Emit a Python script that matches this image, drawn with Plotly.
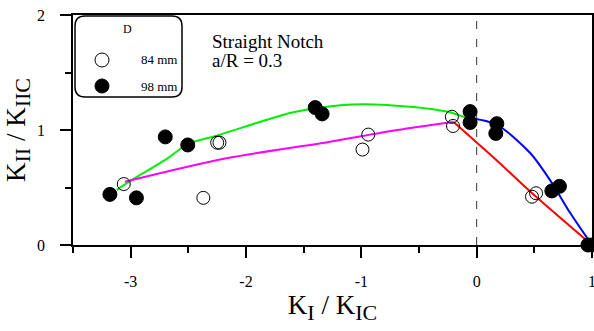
import plotly.graph_objects as go

# ---- data ----
open_x = [-3.06, -2.37, -2.25, -2.23, -0.94, -0.99, -0.215, -0.205, 0.48, 0.515]
open_y = [0.53, 0.41, 0.89, 0.89, 0.96, 0.83, 1.115, 1.035, 0.42, 0.45]

fill_x = [-3.18, -2.95, -2.70, -2.505, -1.40, -1.34, -0.057, -0.057, 0.175, 0.166, 0.718, 0.652, 0.965, 1.0]
fill_y = [0.44, 0.41, 0.94, 0.87, 1.195, 1.14, 1.16, 1.065, 1.055, 0.97, 0.51, 0.47, 0.0, 0.0]

green_x = [-3.12, -3.0, -2.7, -2.5, -2.24, -1.88, -1.59, -1.18, -0.98, -0.55, -0.26, -0.1]
green_y = [0.48, 0.56, 0.74, 0.88, 0.955, 1.07, 1.155, 1.215, 1.225, 1.20, 1.16, 1.11]

magenta_x = [-3.05, -2.17, -1.27, -0.69, -0.2]
magenta_y = [0.55, 0.754, 0.898, 1.0, 1.07]

red_x = [-0.2, 0.175, 0.464, 1.0]
red_y = [1.07, 0.735, 0.465, 0.0]

blue_x = [-0.1, 0.175, 0.464, 0.652, 0.81, 1.0]
blue_y = [1.11, 1.045, 0.80, 0.54, 0.28, 0.0]

x_ticks = [-3, -2, -1, 0, 1]
x_tick_labels = ["-3", "-2", "-1", "0", "1"]
y_ticks = [0, 1, 2]
y_tick_labels = ["0", "1", "2"]

FONT = "Liberation Serif, Times New Roman, serif"

fig = go.Figure()
for xs, ys, col in [(green_x, green_y, "#00ee00"), (magenta_x, magenta_y, "#ff00ff"),
                    (red_x, red_y, "#ff0000"), (blue_x, blue_y, "#0000ff")]:
    fig.add_trace(go.Scatter(x=xs, y=ys, mode="lines", line=dict(color=col, width=2, shape="spline", smoothing=0.8),
                             showlegend=False, hoverinfo="skip"))

fig.add_trace(go.Scatter(x=fill_x, y=fill_y, mode="markers", name="98 mm",
                         marker=dict(symbol="circle", size=14, color="black", line=dict(color="black", width=1)),
                         showlegend=False, cliponaxis=False))
fig.add_trace(go.Scatter(x=open_x, y=open_y, mode="markers", name="84 mm",
                         marker=dict(symbol="circle-open", size=13, color="black", line=dict(color="black", width=1)),
                         showlegend=False, cliponaxis=False))

# plot-area pixel geometry
L, R, T, B = 73, 592, 15, 245
W, H = R - L, B - T
def px(x):
    return (x - L) / W
def py(y):
    return (B - y) / H

# dashed vertical line at x = 0
fig.add_shape(type="line", xref="x", yref="y", x0=0, x1=0, y0=0, y1=2,
              line=dict(color="#333333", width=1, dash="8px,10px"), layer="below")

# legend box (rounded rectangle)
x0, x1, y0, y1, r = 75, 182, 16, 97, 10
path = (f"M {px(x0+r)},{py(y0)} L {px(x1-r)},{py(y0)} Q {px(x1)},{py(y0)} {px(x1)},{py(y0+r)} "
        f"L {px(x1)},{py(y1-r)} Q {px(x1)},{py(y1)} {px(x1-r)},{py(y1)} "
        f"L {px(x0+r)},{py(y1)} Q {px(x0)},{py(y1)} {px(x0)},{py(y1-r)} "
        f"L {px(x0)},{py(y0+r)} Q {px(x0)},{py(y0)} {px(x0+r)},{py(y0)} Z")
fig.add_shape(type="path", xref="paper", yref="paper", path=path,
              line=dict(color="black", width=1.5), fillcolor="white")
for cy, filled in [(60, False), (86, True)]:
    fig.add_shape(type="circle", xref="paper", yref="paper", xsizemode="pixel", ysizemode="pixel",
                  xanchor=px(102), yanchor=py(cy), x0=-7, x1=7, y0=-7, y1=7,
                  line=dict(color="black", width=1), fillcolor="black" if filled else "white")

def note(x, y, text, size, xanchor="center"):
    fig.add_annotation(x=px(x), y=py(y), xref="paper", yref="paper", text=text, showarrow=False,
                       xanchor=xanchor, yanchor="middle", borderpad=0,
                       font=dict(family=FONT, size=size, color="black"))

note(127.5, 29, "D", 12)
note(178, 60, "84 mm", 13, "right")
note(178, 86, "98 mm", 13, "right")
note(211, 41, "Straight Notch", 19, "left")
note(211, 61, "a/R = 0.3", 19, "left")

SUB = "<sub><span style='font-size:22px'>{}</span></sub>"
axis_common = dict(showgrid=False, zeroline=False, showline=True, mirror=True, linecolor="black",
                   linewidth=1.5, ticks="outside", ticklen=11, tickwidth=1.5, tickcolor="black",
                   tickfont=dict(family=FONT, size=16, color="black"))
fig.update_xaxes(range=[-3.5, 1], tickmode="array", tickvals=x_ticks, ticktext=x_tick_labels,
                 ticklabelstandoff=10, ticklabeloverflow="allow",
                 minor=dict(ticks="outside", ticklen=6, tickwidth=1.5, tickcolor="black", dtick=0.5, tick0=0),
                 title=dict(text="K" + SUB.format("I") + " / K" + SUB.format("IC"),
                            font=dict(family=FONT, size=27, color="black"), standoff=4),
                 **axis_common)
fig.update_yaxes(range=[0, 2], tickmode="array", tickvals=y_ticks, ticktext=y_tick_labels,
                 ticklabelstandoff=12,
                 minor=dict(ticks="outside", ticklen=6, tickwidth=1.5, tickcolor="black", dtick=0.5, tick0=0),
                 title=dict(text="K" + SUB.format("II") + " / K" + SUB.format("IIC"),
                            font=dict(family=FONT, size=27, color="black"), standoff=4),
                 **axis_common)

fig.update_layout(width=594, height=331, margin=dict(l=L, r=594 - R, t=T, b=331 - B, autoexpand=False),
                  plot_bgcolor="white", paper_bgcolor="white", showlegend=False)

fig.write_html("out.html", config={"displayModeBar": False},
               post_script="document.body.style.margin='0px';document.body.style.padding='0px';")
